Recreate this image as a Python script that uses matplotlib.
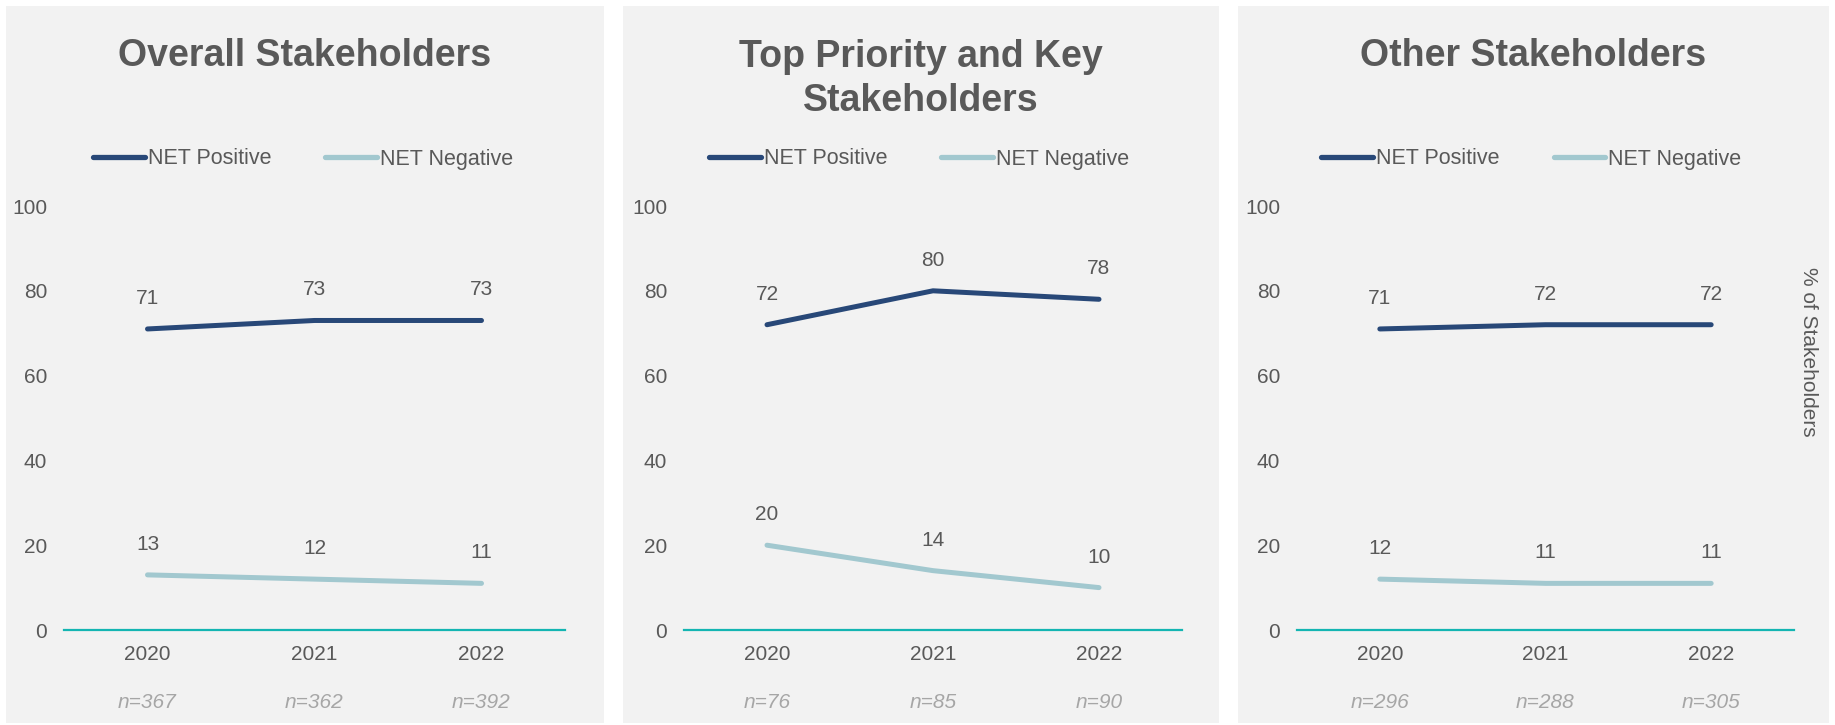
import matplotlib
matplotlib.use('Agg')
import matplotlib.pyplot as plt
from matplotlib.patches import Rectangle
from matplotlib.lines import Line2D

plt.rcParams['font.family'] = ['Liberation Sans', 'DejaVu Sans']

# data
years = ['2020', '2021', '2022']
titles = ['Overall Stakeholders', 'Top Priority and Key\nStakeholders', 'Other Stakeholders']
net_positive = [[71, 73, 73], [72, 80, 78], [71, 72, 72]]
net_negative = [[13, 12, 11], [20, 14, 10], [12, 11, 11]]
sample_sizes = [['n=367', 'n=362', 'n=392'], ['n=76', 'n=85', 'n=90'], ['n=296', 'n=288', 'n=305']]
yticks = [0, 20, 40, 60, 80, 100]

W, H = 1835, 725
POS = '#284878'
NEG = '#a2c8cf'
BASE = '#14b5b2'
TXT = '#595959'
GREY = '#a6a6a6'
BG = '#f2f2f2'

fig = plt.figure(figsize=(W / 100, H / 100), dpi=100)
fig.patch.set_facecolor('white')

# panel boxes (pixel x-range) and axes x-range
panels = [(6, 604), (623, 1219), (1238, 1829)]
axes_x = [(64, 565), (684, 1182), (1297, 1794)]
ax_top, ax_bot = 206, 630

for i in range(3):
    px0, px1 = panels[i]
    fig.patches.append(Rectangle((px0 / W, 1 - 723 / H), (px1 - px0) / W, (723 - 6) / H,
                                 transform=fig.transFigure, facecolor=BG, edgecolor='none', zorder=-5))
    x0, x1 = axes_x[i]
    ax = fig.add_axes([x0 / W, 1 - ax_bot / H, (x1 - x0) / W, (ax_bot - ax_top) / H])
    ax.set_facecolor('none')
    xs = range(len(years))
    ax.plot(xs, net_positive[i], color=POS, lw=3.6, solid_capstyle='round', label='NET Positive')
    ax.plot(xs, net_negative[i], color=NEG, lw=3.6, solid_capstyle='round', label='NET Negative')
    for x, v in zip(xs, net_positive[i]):
        ax.annotate(str(v), (x, v), xytext=(0, 22), textcoords='offset points',
                    ha='center', va='center', fontsize=15, color=TXT)
    for x, v in zip(xs, net_negative[i]):
        ax.annotate(str(v), (x, v), xytext=(0, 22), textcoords='offset points',
                    ha='center', va='center', fontsize=15, color=TXT)
    for x, n in zip(xs, sample_sizes[i]):
        ax.text(x, -0.17, n, transform=ax.get_xaxis_transform(), ha='center', va='center',
                fontsize=15, color=GREY, style='italic')
    ax.set_xlim(-0.5, 2.5)
    ax.set_ylim(0, 100)
    ax.set_xticks(list(xs))
    ax.set_xticklabels(years)
    ax.set_yticks(yticks)
    ax.tick_params(length=0, labelsize=15, labelcolor=TXT)
    ax.tick_params(axis='y', pad=12)
    ax.tick_params(axis='x', pad=11)
    for s in ['top', 'left', 'right']:
        ax.spines[s].set_visible(False)
    ax.spines['bottom'].set_color(BASE)
    ax.spines['bottom'].set_linewidth(1.6)

    cx = (px0 + px1) / 2 / W
    ty = 56 if '\n' not in titles[i] else 79
    fig.text(cx, 1 - ty / H, titles[i], ha='center', va='center', fontsize=27,
             fontweight='bold', color=TXT, linespacing=1.3)
    handles = [Line2D([], [], color=POS, lw=3.8, solid_capstyle='round'),
               Line2D([], [], color=NEG, lw=3.8, solid_capstyle='round')]
    leg = ax.legend(handles, ['NET Positive', 'NET Negative'], loc='center', ncol=2,
                    bbox_to_anchor=(cx - 2 / W, 1 - 159 / H), bbox_transform=fig.transFigure,
                    frameon=False, fontsize=15.5, handlelength=2.4, handletextpad=0.15,
                    columnspacing=2.5)
    for t in leg.get_texts():
        t.set_color(TXT)

fig.text(1808 / W, 1 - 352 / H, '% of Stakeholders', rotation=-90, ha='center', va='center',
         fontsize=15, color=TXT)

fig.savefig('out.png', dpi=100, facecolor='white')
